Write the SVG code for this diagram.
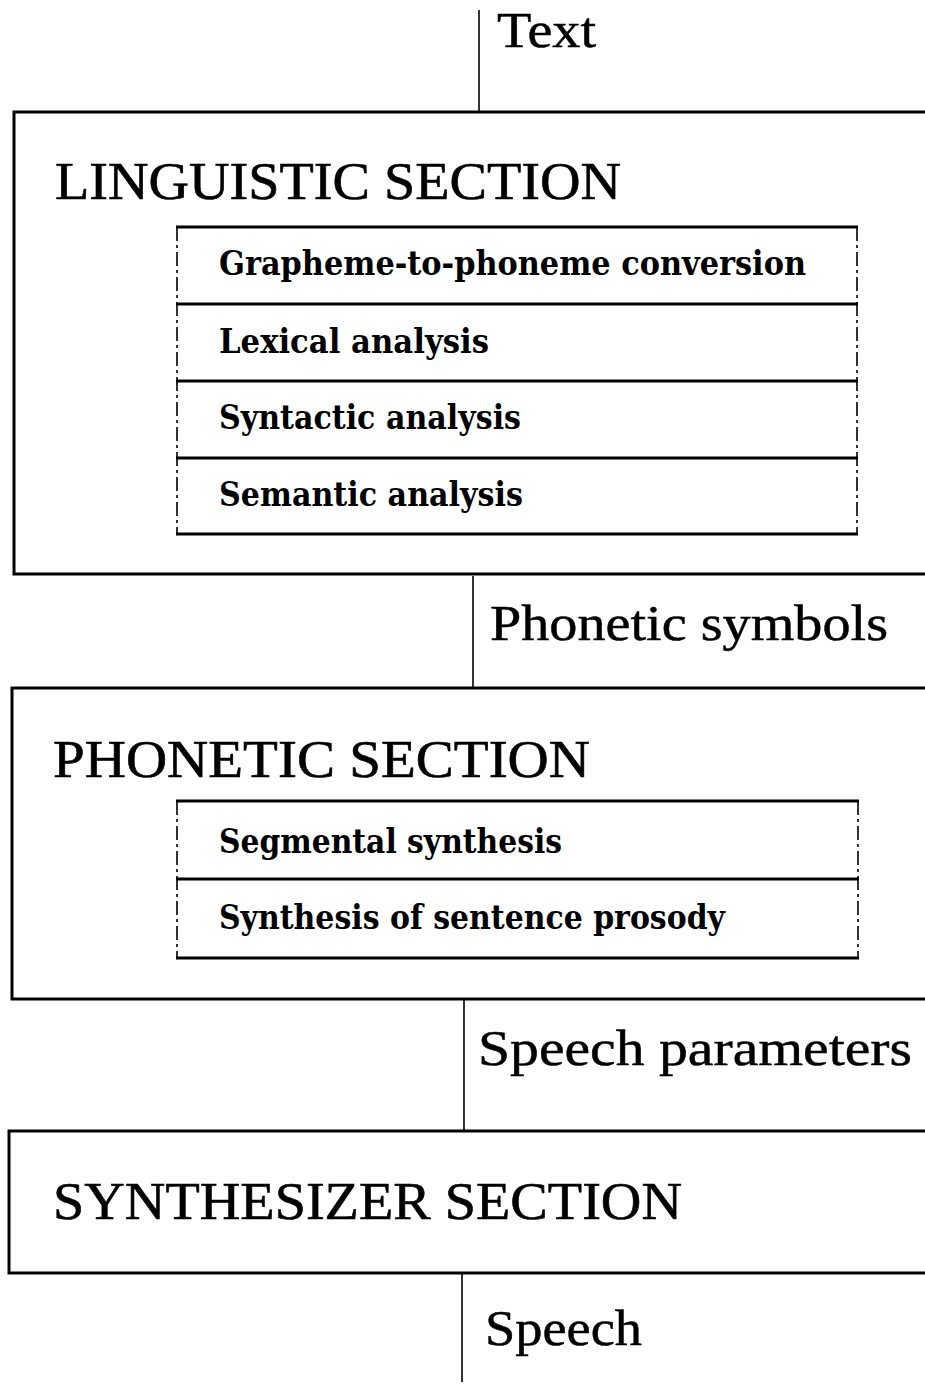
<svg xmlns="http://www.w3.org/2000/svg" width="925" height="1384" viewBox="0 0 925 1384">
<style>
.outer{fill:none;stroke:#000;stroke-width:3}
.hline{stroke:#000;stroke-width:3}
.vdash{stroke:#000;stroke-width:1.6;stroke-dasharray:14 4 3 4}
.conn{stroke:#000;stroke-width:1.6}
.title{font-family:"Liberation Serif",serif;font-size:52px;fill:#000;stroke:#000;stroke-width:0.6}
.label{font-family:"Liberation Serif",serif;font-size:51px;fill:#000;stroke:#000;stroke-width:0.5}
.row{font-family:"DejaVu Serif","Liberation Serif",serif;font-weight:bold;font-size:34px;fill:#000}
</style>
<rect width="925" height="1384" fill="#fff"/>
<g id="connectors">
<line class="conn" x1="479" y1="10" x2="479" y2="111"/>
<line class="conn" x1="473" y1="576" x2="473" y2="688"/>
<line class="conn" x1="464" y1="1000" x2="464" y2="1130"/>
<line class="conn" x1="462" y1="1274" x2="462" y2="1382"/>
<text class="label" x="497" y="47" textLength="99" lengthAdjust="spacingAndGlyphs">Text</text>
<text class="label" x="490" y="640" textLength="398" lengthAdjust="spacingAndGlyphs">Phonetic symbols</text>
<text class="label" x="478" y="1065" textLength="434" lengthAdjust="spacingAndGlyphs">Speech parameters</text>
<text class="label" x="485" y="1345" textLength="157" lengthAdjust="spacingAndGlyphs">Speech</text>
</g>
<g id="linguistic">
<path class="outer" d="M940 112 H14 V574 H940"/>
<text class="title" x="55" y="199" textLength="566" lengthAdjust="spacingAndGlyphs">LINGUISTIC SECTION</text>
<line class="vdash" x1="177" y1="227" x2="177" y2="534"/>
<line class="vdash" x1="857" y1="227" x2="857" y2="534"/>
<line class="hline" x1="176" y1="227" x2="858" y2="227"/>
<line class="hline" x1="176" y1="304" x2="858" y2="304"/>
<line class="hline" x1="176" y1="381" x2="858" y2="381"/>
<line class="hline" x1="176" y1="458" x2="858" y2="458"/>
<line class="hline" x1="176" y1="534" x2="858" y2="534"/>
<text class="row" x="219" y="275" textLength="587" lengthAdjust="spacingAndGlyphs">Grapheme-to-phoneme conversion</text>
<text class="row" x="219" y="353" textLength="270" lengthAdjust="spacingAndGlyphs">Lexical analysis</text>
<text class="row" x="219" y="429" textLength="302" lengthAdjust="spacingAndGlyphs">Syntactic analysis</text>
<text class="row" x="219" y="506" textLength="304" lengthAdjust="spacingAndGlyphs">Semantic analysis</text>
</g>
<g id="phonetic">
<path class="outer" d="M940 688 H12 V999 H940"/>
<text class="title" x="53" y="777" textLength="537" lengthAdjust="spacingAndGlyphs">PHONETIC SECTION</text>
<line class="vdash" x1="177" y1="801" x2="177" y2="958"/>
<line class="vdash" x1="858" y1="801" x2="858" y2="958"/>
<line class="hline" x1="176" y1="801" x2="859" y2="801"/>
<line class="hline" x1="176" y1="879" x2="859" y2="879"/>
<line class="hline" x1="176" y1="958" x2="859" y2="958"/>
<text class="row" x="219" y="853" textLength="343" lengthAdjust="spacingAndGlyphs">Segmental synthesis</text>
<text class="row" x="219" y="929" textLength="506" lengthAdjust="spacingAndGlyphs">Synthesis of sentence prosody</text>
</g>
<g id="synthesizer">
<path class="outer" d="M940 1131 H9 V1273 H940"/>
<text class="title" x="53" y="1219" textLength="629" lengthAdjust="spacingAndGlyphs">SYNTHESIZER SECTION</text>
</g>
</svg>
